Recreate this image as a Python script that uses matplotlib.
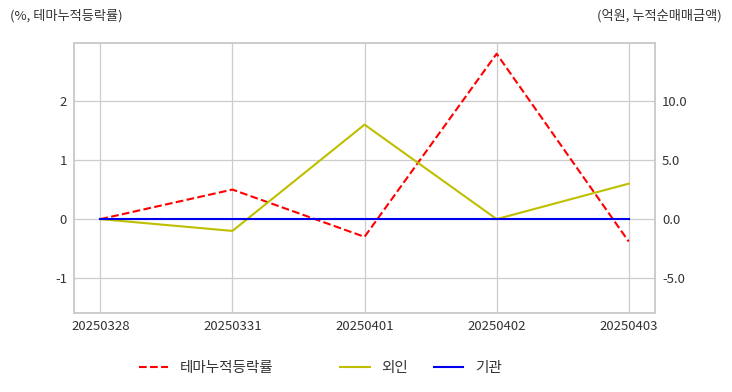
import matplotlib.pyplot as plt
import numpy as np

plt.rcParams['font.family'] = ['Noto Sans CJK KR', 'DejaVu Sans']
plt.rcParams['axes.unicode_minus'] = False

# data
dates = ['20250328', '20250331', '20250401', '20250402', '20250403']
theme_rate = [0.0, 0.5, -0.3, 2.8, -0.38]     # %, left axis
foreign = [0.0, -1.0, 8.0, 0.0, 3.0]          # 억원, right axis
institution = [0.0, 0.0, 0.0, 0.0, 0.0]       # 억원, right axis

left_ticks = [-1, 0, 1, 2]
right_ticks = [-5.0, 0.0, 5.0, 10.0]

grid_c = '#cccccc'
text_c = '#333333'

fig = plt.figure(figsize=(7.32, 3.92), dpi=100)
ax = fig.add_axes([0.101, 0.2015, 0.794, 0.6885])
ax2 = ax.twinx()

x = np.arange(len(dates))
l1, = ax.plot(x, theme_rate, color='red', linestyle='--', linewidth=1.5, label='테마누적등락률')
l2, = ax2.plot(x, foreign, color='#bfbf00', linewidth=1.5, label='외인')
l3, = ax2.plot(x, institution, color='#0000ee', linewidth=1.5, label='기관')

ax.set_xlim(-0.2, 4.2)
ax.set_ylim(-1.59, 2.98)
ax2.set_ylim(-7.95, 14.9)
ax.set_xticks(x)
ax.set_xticklabels(dates)
ax.set_yticks(left_ticks)
ax.set_yticklabels([str(v) for v in left_ticks])
ax2.set_yticks(right_ticks)
ax2.set_yticklabels([f'{v:.1f}' for v in right_ticks])

ax.grid(True, color=grid_c, linewidth=0.9)
ax2.grid(False)
for a in (ax, ax2):
    a.tick_params(length=0, labelsize=9.5, colors=text_c, pad=5)
    for s in a.spines.values():
        s.set_color(grid_c)
        s.set_linewidth(1.2)
ax.set_axisbelow(True)

fig.text(0.0137, 0.96, '(%, 테마누적등락률)', fontsize=9.5, color=text_c, ha='left', va='center')
fig.text(0.986, 0.96, '(억원, 누적순매매금액)', fontsize=9.5, color=text_c, ha='right', va='center')

fig.legend(handles=[l1], loc='center left', bbox_to_anchor=(0.18, 0.061),
           frameon=False, borderpad=0, fontsize=10.5, handlelength=2.0,
           labelcolor=text_c)
fig.legend(handles=[l2, l3], loc='center left', bbox_to_anchor=(0.455, 0.061),
           frameon=False, borderpad=0, fontsize=10.5, ncol=2, handlelength=2.0,
           columnspacing=1.8, labelcolor=text_c)

fig.savefig('out.png', dpi=100)
